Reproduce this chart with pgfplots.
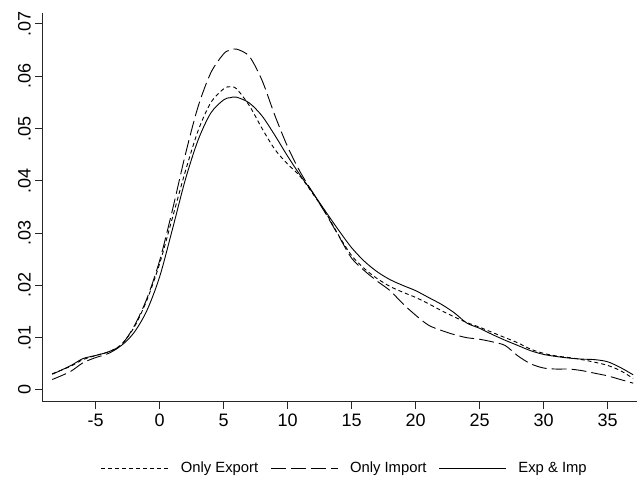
\documentclass[border=0pt]{standalone}
\usepackage{fontspec}
\setmainfont{Liberation Sans}
\usepackage{pgfplots}
\pgfplotsset{compat=1.18}
\usepackage{pgfplotstable}

% x, only export, only import, exp & imp
\pgfplotstableread{
x     ex      im      both
-8.4  0.0031  0.0020  0.0030
-7    0.0045  0.0035  0.0046
-6    0.0058  0.0052  0.0060
-5    0.0066  0.0062  0.0066
-4    0.0073  0.0070  0.0073
-3    0.0087  0.0086  0.0085
-2    0.0120  0.0122  0.0110
-1    0.0172  0.0175  0.0152
0     0.0242  0.0248  0.0217
1     0.0330  0.0345  0.0308
2     0.0418  0.0450  0.0402
3     0.0496  0.0542  0.0478
4     0.0550  0.0607  0.0530
5     0.0576  0.0643  0.0555
5.5   0.0580  0.0650  0.0559
6     0.0576  0.0652  0.0560
7     0.0544  0.0638  0.0549
8     0.0500  0.0592  0.0524
9     0.0460  0.0525  0.0487
10    0.0432  0.0465  0.0447
11    0.0408  0.0416  0.0410
12    0.0374  0.0376  0.0376
13    0.0338  0.0336  0.0340
14    0.0295  0.0294  0.0305
15    0.0257  0.0252  0.0272
16    0.0232  0.0228  0.0246
17    0.0213  0.0208  0.0226
18    0.0198  0.0190  0.0211
19    0.0187  0.0165  0.0200
20    0.0177  0.0143  0.0190
21    0.0165  0.0124  0.0177
22    0.0152  0.0114  0.0164
23    0.0140  0.0106  0.0148
24    0.0129  0.0100  0.0128
25    0.0120  0.0097  0.0118
26    0.0110  0.0092  0.0106
27    0.0100  0.0085  0.0095
28    0.0090  0.0065  0.0085
29    0.0078  0.0050  0.0075
30    0.0070  0.0042  0.0068
31    0.0065  0.0040  0.0064
32    0.0062  0.0040  0.0061
33    0.0058  0.0037  0.0059
34    0.0053  0.0032  0.0058
35    0.0047  0.0027  0.0054
36    0.0037  0.0020  0.0043
37    0.0022  0.0013  0.0029
}\dens

\begin{document}
\begin{tikzpicture}
\path[use as bounding box] (0,0) rectangle (637bp,495bp);
\begin{axis}[
    at={(42bp,93bp)}, anchor=south west,
    scale only axis, width=595bp, height=389bp,
    xmin=-9.2, xmax=37.3, ymin=-0.0023, ymax=0.0721,
    axis x line*=bottom, axis y line*=left,
    axis line style={line width=1bp, black!85},
    xtick={-5,0,...,35},
    xticklabels={-5,0,5,10,15,20,25,30,35},
    ytick={0,0.01,...,0.07},
    yticklabels={0,.01,.02,.03,.04,.05,.06,.07},
    scaled y ticks=false,
    tick align=outside, major tick length=7bp,
    tick style={line width=1bp, black!85},
    ticklabel style={font=\fontsize{18bp}{20bp}\selectfont},
    yticklabel style={rotate=90, anchor=south, inner sep=4bp},
    xticklabel style={inner sep=5bp},
    legend style={at={(0.509,-0.17)}, anchor=center, draw=none,
        font=\fontsize{14.8bp}{17bp}\selectfont, column sep=0bp},
    legend columns=3,
    legend image code/.code={\draw[#1] (0bp,0bp) -- (67bp,0bp);},
    /tikz/every odd column/.append style={column sep=10bp},
    /tikz/every even column/.append style={column sep=10bp},
    legend cell align=left,
]
\addplot[black, line width=0.9bp, smooth, dash pattern=on 4bp off 3bp] table[x=x, y=ex] {\dens};
\addlegendentry{Only Export}
\addplot[black, line width=0.9bp, smooth, dash pattern=on 15bp off 5bp] table[x=x, y=im] {\dens};
\addlegendentry{Only Import}
\addplot[black, line width=0.9bp, smooth] table[x=x, y=both] {\dens};
\addlegendentry{Exp \& Imp}
\end{axis}
\end{tikzpicture}
\end{document}
